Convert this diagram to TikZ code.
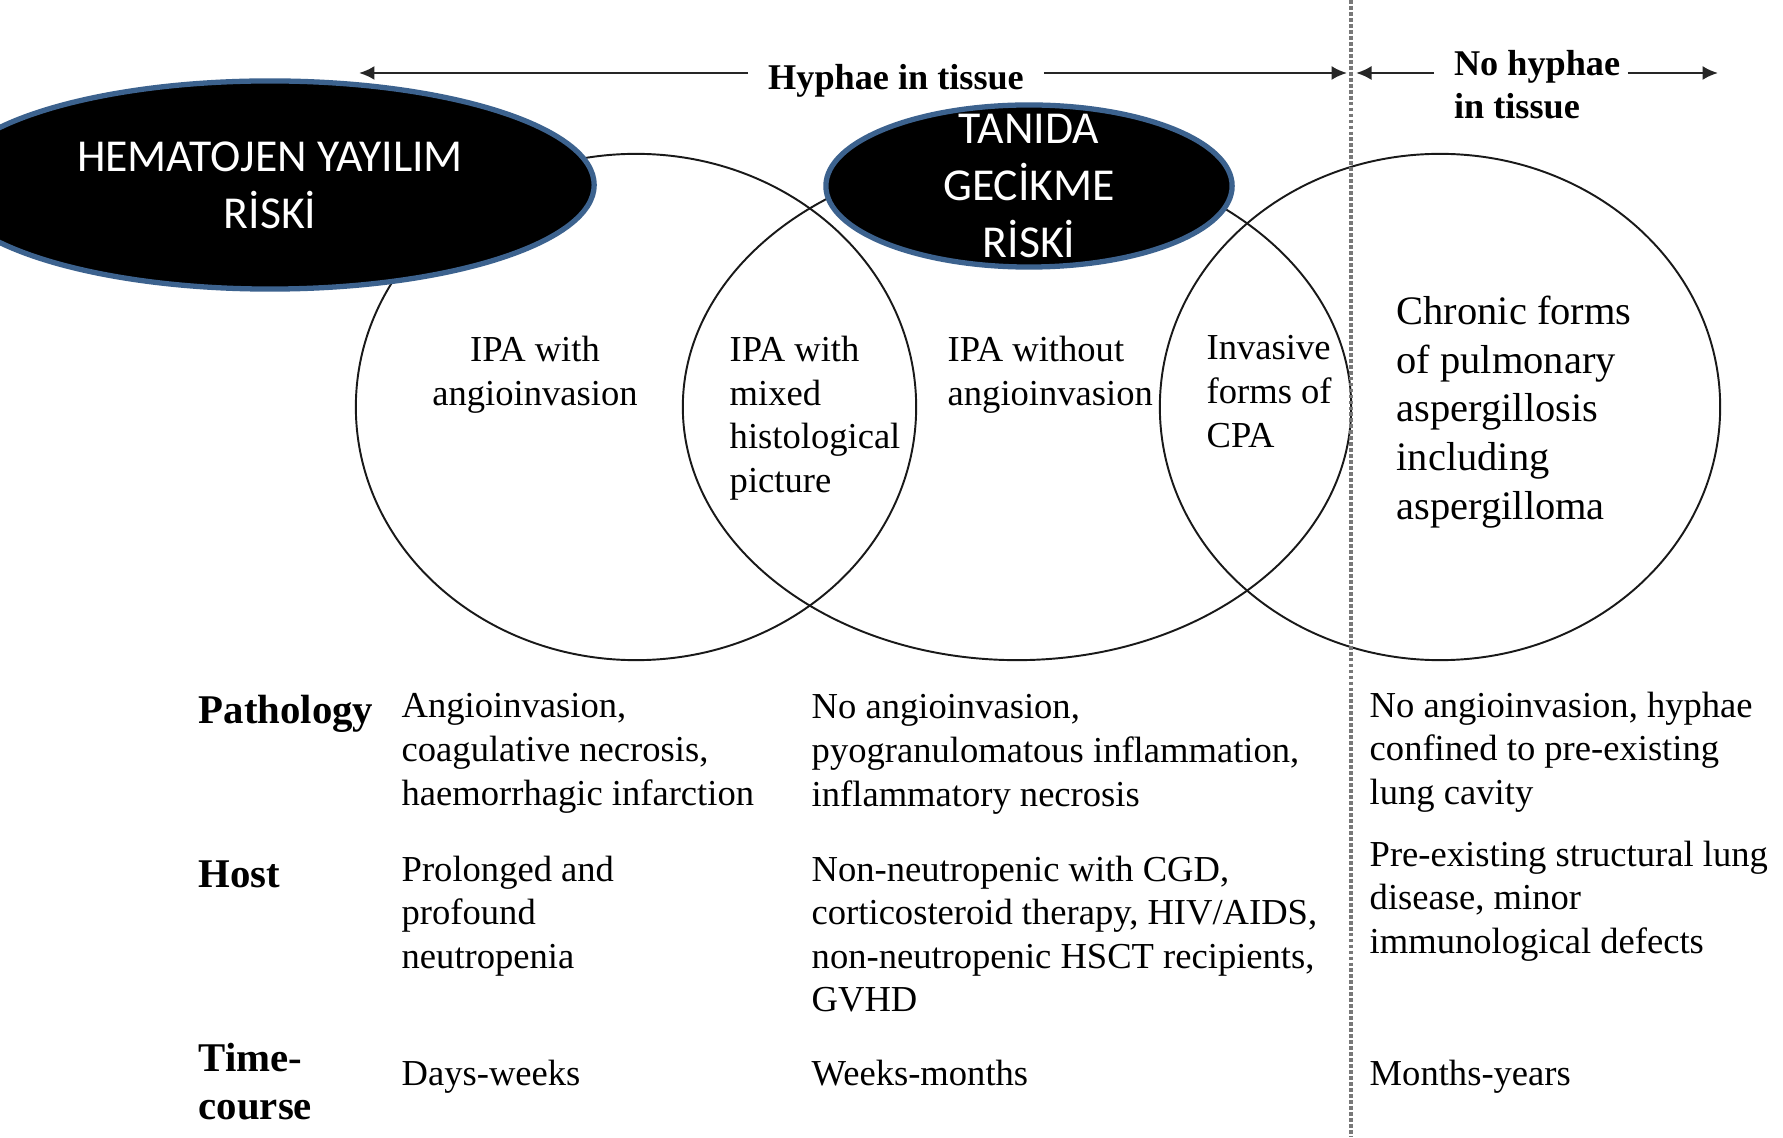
\documentclass[tikz,border=0pt]{standalone}
\usepackage{fontspec}
\setmainfont{Liberation Serif}
\newfontfamily\riskfont{Carlito}
\usepackage{xcolor}
\usetikzlibrary{arrows.meta,shapes.geometric}
\definecolor{rimblue}{RGB}{60,98,142}
\definecolor{dashgray}{RGB}{120,120,120}

\begin{document}
\begin{tikzpicture}[
  x=0.01cm, y=-0.01cm,
  venn/.style={draw=black!90, line width=0.55pt},
  blob/.style={ellipse, draw=rimblue, line width=1.5pt, fill=black, inner sep=0},
  blobtxt/.style={font=\riskfont\fontsize{13}{16.2}\selectfont, text=white,
                  align=center, inner sep=0},
  zone/.style={font=\bfseries\fontsize{10.3}{12.2}\selectfont, inner ysep=0, inner xsep=5.5pt},
  reach/.style={draw=black!85, line width=0.7pt, -{Latex[length=4.4pt,width=4pt]}},
  lbl/.style={font=\fontsize{10.4}{12.5}\selectfont, align=left, anchor=north west, inner sep=0},
  big/.style={lbl, font=\fontsize{11.5}{13.9}\selectfont},
  rowhd/.style={lbl, font=\bfseries\fontsize{11.6}{13.9}\selectfont},
  cell/.style={lbl, font=\fontsize{10.4}{12.4}\selectfont},
]
\clip (0,0) rectangle (1783,1137);
\fill[white] (0,0) rectangle (1783,1137);
% ---- three overlapping fields
\foreach \cx/\rx in {636/2.80cm, 1017/3.34cm, 1440/2.80cm} {
  \draw[venn] (\cx,407) ellipse [x radius=\rx, y radius=2.53cm];
}
% ---- border between hyphae / no hyphae
\draw[dashgray, line width=1pt, dash pattern=on 1.1pt off 0.6pt] (1351,0) -- (1351,1137);
% ---- risk blobs on top
\node[blob, minimum width=6.48cm, minimum height=2.08cm] (hema) at (270,185) {};
\node[blobtxt] (hematxt) at (hema.center) {HEMATOJEN YAYILIM\\RİSKİ};
\node[blob, minimum width=4.06cm, minimum height=1.62cm] (tani) at (1029,186) {};
\node[blobtxt] (tanitxt) at (tani.center) {TANIDA\\GECİKME\\RİSKİ};
% ---- range arrows
\coordinate (hypL) at (359,73);
\coordinate (hypR) at (1347,73);
\node[zone, anchor=base] (hyp) at (896,90) {Hyphae in tissue};
\draw[reach] (hyp.west |- hypL) -- (hypL);
\draw[reach] (hyp.east |- hypR) -- (hypR);
\coordinate (nohL) at (1356,73);
\coordinate (nohR) at (1718,73);
\node[zone, align=left, anchor=north west] (noh) at (1434,50) {No hyphae\\in tissue};
\draw[reach] (noh.west |- nohL) -- (nohL);
\draw[reach] ([xshift=-3.5pt]noh.east |- nohR) -- (nohR);
% ---- labels inside the fields
\node[lbl, align=center, anchor=north] (angio) at (535,335) {IPA with\\angioinvasion};
\node[lbl] (mixed) at (729,335) {IPA with\\mixed\\histological\\picture};
\node[lbl] (noangio) at (947,335) {IPA without\\angioinvasion};
\node[lbl] (cpa) at (1206,335) {Invasive\\forms of\\CPA};
\node[big] (chronic) at (1396,295) {Chronic forms\\of pulmonary\\aspergillosis\\including\\aspergilloma};
% ---- table below
\node[rowhd] (patho) at (198,694) {Pathology};
\node[rowhd] (host) at (198,860) {Host};
\node[rowhd] (time) at (198,1042) {Time-\\course};
\node[cell] (pathoA) at (401,693) {Angioinvasion,\\coagulative necrosis,\\haemorrhagic infarction};
\node[cell] (hostA) at (401,855) {Prolonged and\\profound\\neutropenia};
\node[cell] (timeA) at (401,1059) {Days-weeks};
\node[cell] (pathoB) at (811,694) {No angioinvasion,\\pyogranulomatous inflammation,\\inflammatory necrosis};
\node[cell] (hostB) at (811,855) {Non-neutropenic with CGD,\\corticosteroid therapy, HIV/AIDS,\\non-neutropenic HSCT recipients,\\GVHD};
\node[cell] (timeB) at (811,1059) {Weeks-months};
\node[cell] (pathoC) at (1369,691) {No angioinvasion, hyphae\\confined to pre-existing\\lung cavity};
\node[cell] (hostC) at (1369,840) {Pre-existing structural lung\\disease, minor\\immunological defects};
\node[cell] (timeC) at (1369,1059) {Months-years};
\end{tikzpicture}
\end{document}
